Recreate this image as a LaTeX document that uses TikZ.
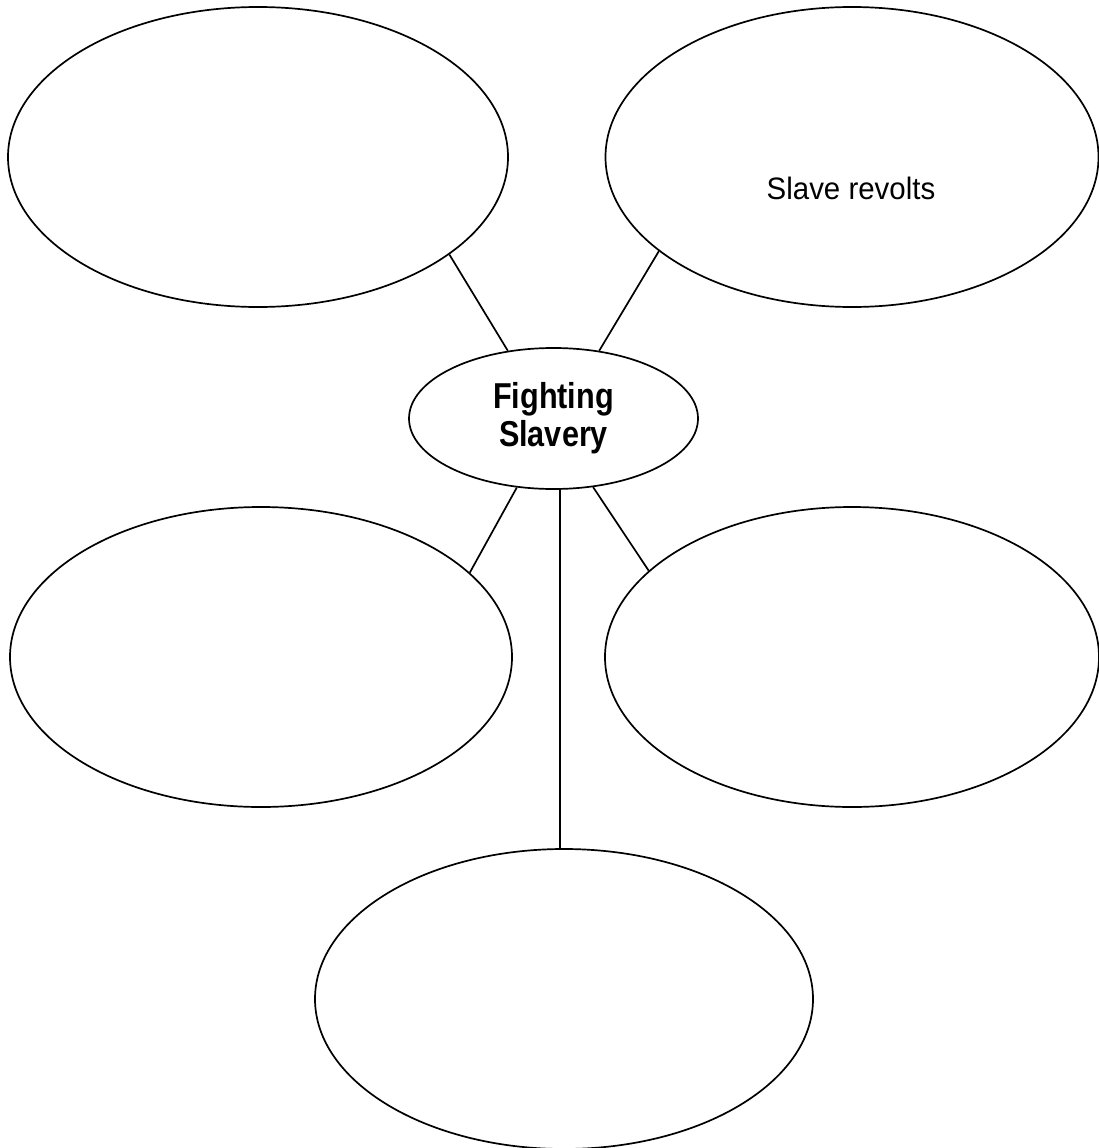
\documentclass[tikz,border=0pt]{standalone}
\usepackage{fontspec}
\setmainfont{Liberation Sans}
\newfontfamily\condfont[FakeStretch=0.85]{Liberation Sans}
\newfontfamily\labelfont[FakeStretch=0.95]{Liberation Sans}
\usetikzlibrary{shapes.geometric}
\begin{document}
\begin{tikzpicture}[x=1pt,y=-1pt,
  bubble/.style={draw, ellipse, line width=1.7pt, inner sep=0pt, minimum width=500pt, minimum height=300pt},
  hub/.style={draw, ellipse, line width=1.7pt, inner sep=0pt, minimum width=289pt, minimum height=141pt,
    align=center, font=\condfont\bfseries\fontsize{36}{38}\selectfont},
  link/.style={line width=1.7pt},
  label/.style={font=\labelfont\fontsize{31}{34}\selectfont, inner sep=0pt}]
\useasboundingbox (0,0) rectangle (1098,1148);
\node[bubble] (tl) at (258,157) {};
\node[bubble, minimum width=493pt] (tr) at (852,157) {};
\node[hub] (c) at (553.5,418.5) {Fighting\\Slavery};
\node[bubble, minimum width=502pt] (ml) at (261,657) {};
\node[bubble, minimum width=494pt] (mr) at (852,657) {};
\node[bubble, minimum width=498pt] (b) at (564,999) {};
\node[label] (sr) at (851,188) {Slave revolts};
\draw[link] (tl.-27.4) -- (c.124.2);
\draw[link] (tr.-154.6) -- (c.56.6);
\draw[link] (c.242.3) -- (ml.22.3);
\draw[link] (c.-60.5) -- (mr.157.7);
\draw[link] (c.-85) -- (c.-85 |- b.north);
\end{tikzpicture}
\end{document}
